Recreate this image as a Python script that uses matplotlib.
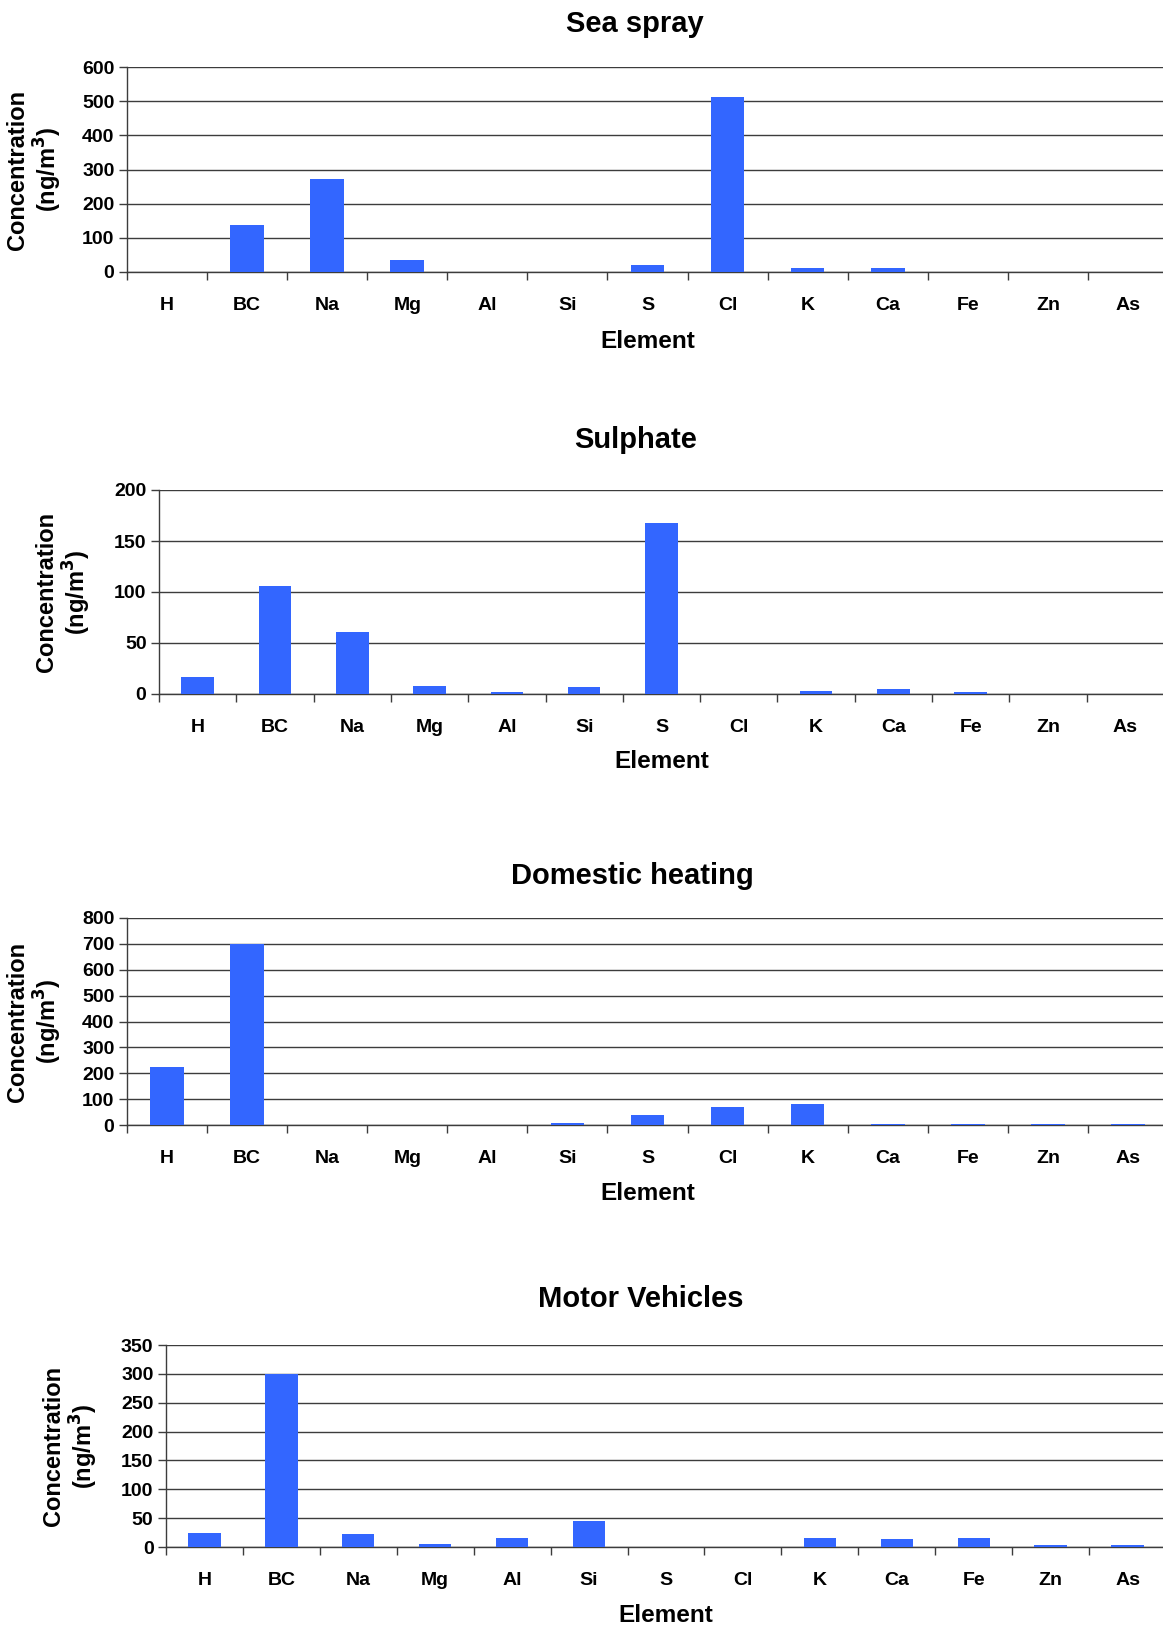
import matplotlib.pyplot as plt
from matplotlib.ticker import MultipleLocator, FixedLocator

plt.rcParams['font.family'] = ['Liberation Sans', 'DejaVu Sans']
plt.rcParams['font.weight'] = 'bold'

W, H = 1163, 1628

elements = ["H", "BC", "Na", "Mg", "Al", "Si", "S", "Cl", "K", "Ca", "Fe", "Zn", "As"]

sea_spray = [0, 138, 271, 35, 0, 0, 20, 513, 12, 12, 0, 0, 0]
sulphate = [17, 106, 61, 8, 2, 7, 168, 0, 3, 5, 2, 0, 0]
domestic_heating = [225, 698, 0, 0, 0, 7, 40, 70, 80, 5, 5, 5, 5]
motor_vehicles = [25, 300, 23, 5, 16, 45, 0, 0, 16, 14, 16, 3, 3]

titles = ["Sea spray", "Sulphate", "Domestic heating", "Motor Vehicles"]
series = [sea_spray, sulphate, domestic_heating, motor_vehicles]
y_max = [600, 200, 800, 350]
y_step = [100, 50, 100, 50]

# panel boxes in pixels: left, right, top, bottom, title x/y, ylabel x, xlabel y
boxes = [
    (127, 1168, 67, 272, 635, 24, 35, 341),
    (159, 1164, 490, 694, 636, 440, 64, 762),
    (127, 1168, 918, 1125, 632, 876, 35, 1194),
    (166, 1166, 1345, 1547, 641, 1299, 71, 1616),
]

BAR = "#3366ff"
GRID = "#3c3c3c"

fig = plt.figure(figsize=(W / 100, H / 100), dpi=100)


def fx(px):
    return px / W


def fy(py):
    return 1 - py / H


for title, vals, ymax, step, box in zip(titles, series, y_max, y_step, boxes):
    left, right, top, bottom, tx, ty, ylx, xly = box
    ax = fig.add_axes([fx(left), fy(bottom), fx(right - left), (bottom - top) / H])
    x = list(range(len(elements)))
    ax.bar(x, vals, width=0.42, color=BAR, zorder=3)
    ax.set_xlim(-0.5, len(elements) - 0.5)
    ax.set_ylim(0, ymax)
    ax.yaxis.set_major_locator(MultipleLocator(step))
    ax.yaxis.grid(True, color=GRID, lw=1.0)
    ax.set_axisbelow(True)

    # boundary ticks between categories, labels at the centres
    ax.xaxis.set_major_locator(FixedLocator([i - 0.5 for i in range(len(elements) + 1)]))
    ax.xaxis.set_major_formatter(plt.NullFormatter())
    ax.xaxis.set_minor_locator(FixedLocator(x))
    ax.set_xticklabels(elements, minor=True)
    ax.tick_params(axis="x", which="major", length=6, width=1, color=GRID)
    ax.tick_params(axis="x", which="minor", length=0, pad=18, labelsize=14)
    ax.tick_params(axis="y", length=6, width=1, color=GRID, labelsize=14, pad=3)
    for lab in ax.get_xticklabels(minor=True) + ax.get_yticklabels():
        lab.set_fontweight("bold")

    for s in ["top", "right"]:
        ax.spines[s].set_visible(False)
    for s in ["left", "bottom"]:
        ax.spines[s].set_color(GRID)
        ax.spines[s].set_linewidth(1)

    fig.text(fx(tx), fy(ty), title, ha="center", va="center", fontsize=21, fontweight="bold")
    fig.text(fx(ylx), fy((top + bottom) / 2), "Concentration\n(ng/m$^\\mathbf{3}$)",
             rotation=90, ha="center", va="center", fontsize=17, fontweight="bold",
             multialignment="center", linespacing=1.15)
    fig.text(fx((left + right) / 2), fy(xly), "Element", ha="center", va="center",
             fontsize=17.5, fontweight="bold")

fig.savefig("out.png", dpi=100, facecolor="white")
